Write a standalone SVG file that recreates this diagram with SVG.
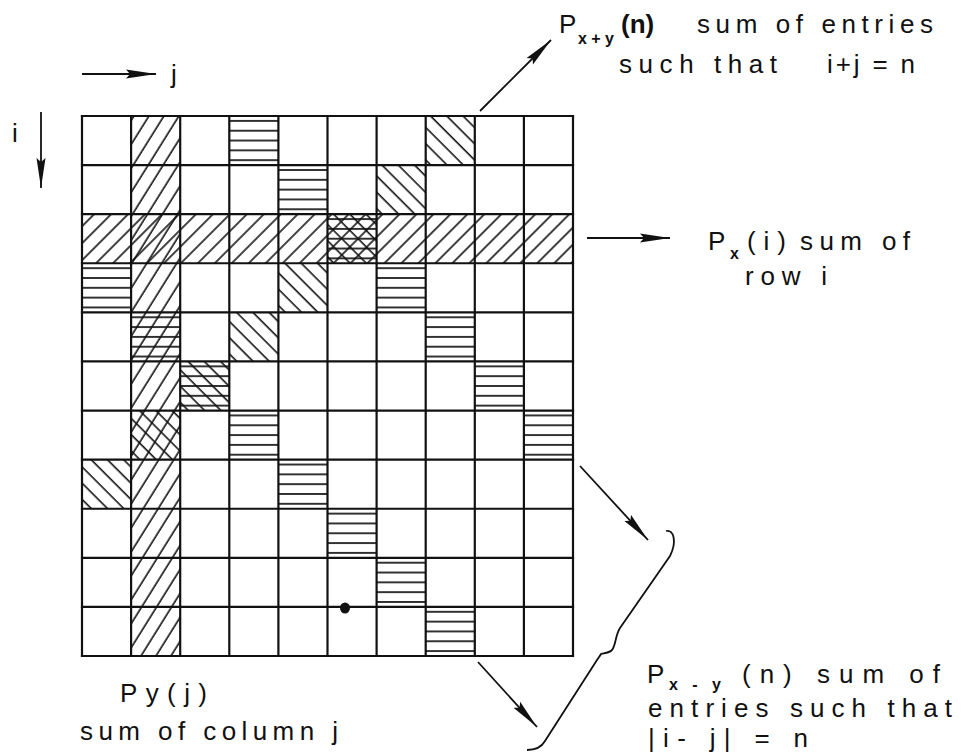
<svg xmlns="http://www.w3.org/2000/svg" width="972" height="752" viewBox="0 0 972 752">
<style>
  .grid line { stroke: #111; stroke-width: 2.2; stroke-linecap: square; }
  .t { font-family: "Liberation Sans", "DejaVu Sans", Arial, sans-serif; font-size: 26px; fill: #111; }
  .sub { font-family: "Liberation Sans", "DejaVu Sans", Arial, sans-serif; font-size: 16px; font-weight: bold; fill: #111; }
  .b { font-weight: bold; }
  .conn line { stroke: #111; stroke-width: 1.8; fill: none; }
  .conn path { stroke: #111; stroke-width: 1.8; fill: none; }
</style>
<defs>
  <pattern id="col" width="12.7" height="12.7" patternUnits="userSpaceOnUse" patternTransform="rotate(32)">
    <line x1="6" y1="-2" x2="6" y2="15" stroke="#111" stroke-width="1.6"/>
  </pattern>
  <pattern id="row" width="12" height="12" patternUnits="userSpaceOnUse" patternTransform="rotate(45)">
    <line x1="6" y1="-2" x2="6" y2="14" stroke="#111" stroke-width="1.6"/>
  </pattern>
  <pattern id="anti" width="11.5" height="11.5" patternUnits="userSpaceOnUse" patternTransform="rotate(-45)">
    <line x1="5" y1="-2" x2="5" y2="14" stroke="#111" stroke-width="1.6"/>
  </pattern>
  <pattern id="hor" width="10" height="9.818" patternUnits="userSpaceOnUse">
    <line x1="-1" y1="4.9" x2="11" y2="4.9" stroke="#111" stroke-width="1.7"/>
  </pattern>
  <marker id="ah" markerUnits="userSpaceOnUse" markerWidth="32" markerHeight="12" refX="30" refY="5" orient="auto">
    <path d="M0,0.5 L30,5 L0,9.5 L4,5 Z" fill="#111"/>
  </marker>
</defs>
<rect width="972" height="752" fill="#fff"/>

<g id="matrix" transform="translate(82,116)">
  <g id="hatching">
    <rect x="49.1" y="0" width="49.1" height="540" fill="url(#col)"/>
    <rect x="0" y="98.18" width="491" height="49.09" fill="url(#row)"/>
    <rect x="343.7" y="0" width="49.1" height="49.09" fill="url(#anti)"/>
    <rect x="294.6" y="49.09" width="49.1" height="49.09" fill="url(#anti)"/>
    <rect x="245.5" y="98.18" width="49.1" height="49.09" fill="url(#anti)"/>
    <rect x="196.4" y="147.27" width="49.1" height="49.09" fill="url(#anti)"/>
    <rect x="147.3" y="196.36" width="49.1" height="49.09" fill="url(#anti)"/>
    <rect x="98.2" y="245.45" width="49.1" height="49.09" fill="url(#anti)"/>
    <rect x="49.1" y="294.55" width="49.1" height="49.09" fill="url(#anti)"/>
    <rect x="0" y="343.64" width="49.1" height="49.09" fill="url(#anti)"/>
    <rect x="147.3" y="0" width="49.1" height="49.09" fill="url(#hor)"/>
    <rect x="196.4" y="49.09" width="49.1" height="49.09" fill="url(#hor)"/>
    <rect x="245.5" y="98.18" width="49.1" height="49.09" fill="url(#hor)"/>
    <rect x="0" y="147.27" width="49.1" height="49.09" fill="url(#hor)"/>
    <rect x="294.6" y="147.27" width="49.1" height="49.09" fill="url(#hor)"/>
    <rect x="49.1" y="196.36" width="49.1" height="49.09" fill="url(#hor)"/>
    <rect x="343.7" y="196.36" width="49.1" height="49.09" fill="url(#hor)"/>
    <rect x="98.2" y="245.45" width="49.1" height="49.09" fill="url(#hor)"/>
    <rect x="392.8" y="245.45" width="49.1" height="49.09" fill="url(#hor)"/>
    <rect x="147.3" y="294.55" width="49.1" height="49.09" fill="url(#hor)"/>
    <rect x="441.9" y="294.55" width="49.1" height="49.09" fill="url(#hor)"/>
    <rect x="196.4" y="343.64" width="49.1" height="49.09" fill="url(#hor)"/>
    <rect x="245.5" y="392.73" width="49.1" height="49.09" fill="url(#hor)"/>
    <rect x="294.6" y="441.82" width="49.1" height="49.09" fill="url(#hor)"/>
    <rect x="343.7" y="490.91" width="49.1" height="49.09" fill="url(#hor)"/>
  </g>
  <g class="grid">
    <line x1="0" y1="0" x2="0" y2="540"/>
    <line x1="49.1" y1="0" x2="49.1" y2="540"/>
    <line x1="98.2" y1="0" x2="98.2" y2="540"/>
    <line x1="147.3" y1="0" x2="147.3" y2="540"/>
    <line x1="196.4" y1="0" x2="196.4" y2="540"/>
    <line x1="245.5" y1="0" x2="245.5" y2="540"/>
    <line x1="294.6" y1="0" x2="294.6" y2="540"/>
    <line x1="343.7" y1="0" x2="343.7" y2="540"/>
    <line x1="392.8" y1="0" x2="392.8" y2="540"/>
    <line x1="441.9" y1="0" x2="441.9" y2="540"/>
    <line x1="491" y1="0" x2="491" y2="540"/>
    <line x1="0" y1="0" x2="491" y2="0"/>
    <line x1="0" y1="49.09" x2="491" y2="49.09"/>
    <line x1="0" y1="98.18" x2="491" y2="98.18"/>
    <line x1="0" y1="147.27" x2="491" y2="147.27"/>
    <line x1="0" y1="196.36" x2="491" y2="196.36"/>
    <line x1="0" y1="245.45" x2="491" y2="245.45"/>
    <line x1="0" y1="294.55" x2="491" y2="294.55"/>
    <line x1="0" y1="343.64" x2="491" y2="343.64"/>
    <line x1="0" y1="392.73" x2="491" y2="392.73"/>
    <line x1="0" y1="441.82" x2="491" y2="441.82"/>
    <line x1="0" y1="490.91" x2="491" y2="490.91"/>
    <line x1="0" y1="540" x2="491" y2="540"/>
  </g>
  <ellipse cx="263" cy="492" rx="5" ry="5.5" fill="#111"/>
</g>

<g id="label-j">
  <text class="t" x="171" y="83">j</text>
</g>
<g id="label-i">
  <text class="t" x="12" y="142">i</text>
</g>
<g id="label-pxy-plus">
  <text class="t" x="559" y="33" font-size="28">P</text>
  <text class="sub" x="578" y="44" textLength="36" lengthAdjust="spacing">x+y</text>
  <text class="t b" x="621" y="33" font-size="23">(n)</text>
  <text class="t" x="697" y="33" textLength="236" lengthAdjust="spacing">sum of entries</text>
  <text class="t" x="619" y="73" textLength="158" lengthAdjust="spacing">such that</text>
  <text class="t" x="827" y="73" textLength="88" lengthAdjust="spacing">i+j = n</text>
</g>
<g id="label-px">
  <text class="t" x="708" y="250">P</text>
  <text class="sub" x="730" y="259">x</text>
  <text class="t" x="747" y="250" textLength="39" lengthAdjust="spacing">(i)</text>
  <text class="t" x="800" y="250" textLength="110" lengthAdjust="spacing">sum of</text>
  <text class="t" x="745" y="285" textLength="82" lengthAdjust="spacing">row i</text>
</g>
<g id="label-py">
  <text class="t" x="120" y="702" textLength="87" lengthAdjust="spacing">Py(j)</text>
  <text class="t" x="80" y="740" textLength="258" lengthAdjust="spacing">sum of column j</text>
</g>
<g id="label-pxy-minus">
  <text class="t" x="647" y="683">P</text>
  <text class="sub" x="669" y="690" font-size="14" textLength="52" lengthAdjust="spacing">x - y</text>
  <text class="t" x="742" y="683" textLength="198" lengthAdjust="spacing">(n) sum of</text>
  <text class="t" x="648" y="717" textLength="304" lengthAdjust="spacing">entries such that</text>
  <text class="t" x="648" y="747" textLength="160" lengthAdjust="spacing">|i- j|  = n</text>
</g>

<g id="connectors" class="conn">
  <line x1="82" y1="74" x2="156" y2="74" marker-end="url(#ah)"/>
  <line x1="41" y1="112" x2="41" y2="188" marker-end="url(#ah)"/>
  <line x1="480" y1="111" x2="551" y2="40" marker-end="url(#ah)"/>
  <line x1="587" y1="238" x2="670" y2="238" marker-end="url(#ah)"/>
  <line x1="580" y1="466" x2="648" y2="540" marker-end="url(#ah)"/>
  <line x1="478" y1="662" x2="537" y2="727" marker-end="url(#ah)"/>
  <path d="M666,531 C674,529 677,542 670,556 L620,628 C615,636 616,645 612,650 C609,653 605,653 601,654 C600,656 599,657 597,660 L545,741 C541,748 535,750 527,750"/>
</g>
</svg>
